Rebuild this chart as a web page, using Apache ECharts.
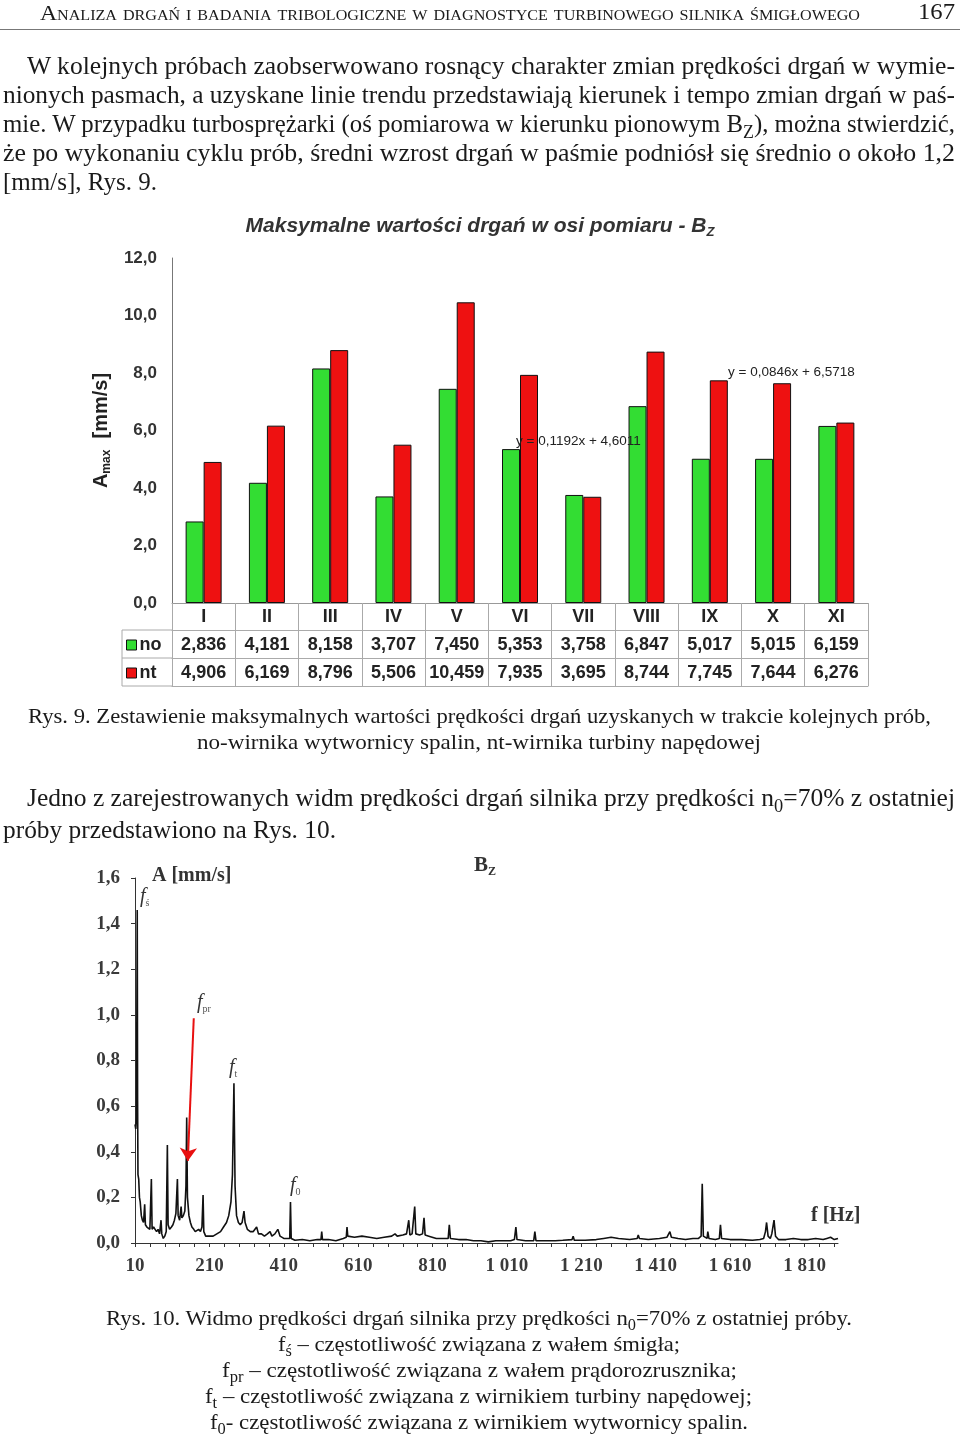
<!DOCTYPE html>
<html><head><meta charset="utf-8">
<script src="https://cdn.jsdelivr.net/npm/echarts@6/dist/echarts.min.js"></script>
<style>
html,body{margin:0;padding:0;background:#fff;}
body{width:960px;height:1435px;position:relative;overflow:hidden;}
#chart{position:absolute;left:0;top:0;width:960px;height:1435px;}
.ln{position:absolute;white-space:nowrap;font-family:'Liberation Serif','Times New Roman',serif;color:#1a1a1a;line-height:30px;height:30px;transform-origin:0 50%;}
.sub{font-size:0.72em;position:relative;top:0.32em;}
.hr{position:absolute;left:0;top:29px;width:960px;height:1px;background:#777;}
</style></head>
<body>
<div id="chart"></div>
<div class="hr"></div>
<div id="text"></div>
<script>
// ---------- DATA ----------
const categories = ['I','II','III','IV','V','VI','VII','VIII','IX','X','XI'];
const noValues = [2.836,4.181,8.158,3.707,7.450,5.353,3.758,6.847,5.017,5.015,6.159];
const ntValues = [4.906,6.169,8.796,5.506,10.459,7.935,3.695,8.744,7.745,7.644,6.276];
const trendNoLabel = 'y = 0,1192x + 4,6011';
const trendNtLabel = 'y = 0,0846x + 6,5718';
const specTickLabels = ['10','210','410','610','810','1 010','1 210','1 410','1 610','1 810'];
// spectrum, [frequency Hz, amplitude mm/s]
const specLow = [
 [10,0.52],[12,0.50],[14,0.55],[16,1.46],[17,0.62],[18,0.30],[20,0.28],[22,0.20],[24,0.18],[27,0.12],
 [30,0.10],[33,0.09],[36,0.17],[38,0.08],[42,0.07],[46,0.07],[50,0.06],[54,0.28],[56,0.06],[60,0.07],
 [64,0.06],[68,0.05],[72,0.06],[76,0.04],[80,0.10],[82,0.04],[86,0.02],[90,0.03],[94,0.05],[97,0.43],
 [99,0.08],[103,0.06],[108,0.07],[112,0.08],[116,0.10],[120,0.13],[124,0.28],[126,0.12],[130,0.10],[134,0.16],
 [136,0.11],[140,0.12],[144,0.14],[147,0.25],[149,0.55],[151,0.20],[155,0.12],[159,0.09],[163,0.07],[168,0.06],
 [172,0.05],[177,0.05],[181,0.06],[186,0.05],[190,0.07],[193,0.21],[195,0.05],[200,0.03],[210,0.03],[220,0.03],
 [230,0.04],[240,0.05],[248,0.07],[256,0.09],[262,0.12],[268,0.18],[272,0.30],[276,0.70],[279,0.25],[283,0.12],
 [288,0.09],[293,0.08],[298,0.09],[303,0.14],[306,0.09],[312,0.06],[320,0.05],[328,0.05],[337,0.07],[342,0.04],
 [350,0.04],[358,0.03],[366,0.04],[373,0.05],[378,0.03],[386,0.04],[394,0.06],[400,0.03],[410,0.02],[420,0.02],
 [426,0.02],[428,0.18],[430,0.02],[440,0.012]
];
const specHigh = [
 [460,0.015],[480,0.01],[500,0.015],[510,0.015],[512,0.05],[514,0.015],[530,0.015],[550,0.01],[570,0.02],[578,0.025],
 [580,0.07],[582,0.03],[600,0.025],[620,0.03],[640,0.025],[660,0.02],[680,0.025],[700,0.03],[709,0.04],[715,0.03],
 [730,0.035],[740,0.04],[746,0.10],[749,0.035],[755,0.04],[762,0.16],[765,0.04],[775,0.035],[783,0.04],[787,0.11],
 [790,0.035],[800,0.03],[820,0.02],[840,0.02],[852,0.02],[855,0.08],[858,0.02],[880,0.015],[900,0.015],[920,0.01],
 [940,0.01],[960,0.005],[980,0.01],[1000,0.01],[1020,0.01],[1030,0.015],[1034,0.07],[1037,0.015],[1060,0.01],[1082,0.01],
 [1085,0.05],[1088,0.01],[1110,0.01],[1140,0.01],[1160,0.012],[1185,0.015],[1188,0.03],[1191,0.012],[1220,0.012],[1250,0.015],
 [1270,0.02],[1290,0.025],[1310,0.02],[1340,0.015],[1360,0.02],[1363,0.035],[1366,0.02],[1390,0.015],[1420,0.02],[1440,0.025],
 [1448,0.05],[1452,0.025],[1470,0.02],[1490,0.015],[1510,0.02],[1525,0.02],[1532,0.03],[1535,0.26],[1538,0.03],[1548,0.02],
 [1550,0.05],[1553,0.02],[1570,0.015],[1581,0.02],[1584,0.08],[1587,0.02],[1610,0.015],[1640,0.015],[1670,0.012],[1690,0.015],
 [1700,0.02],[1705,0.05],[1708,0.09],[1712,0.03],[1718,0.02],[1722,0.04],[1728,0.10],[1732,0.03],[1740,0.015],[1760,0.015],
 [1780,0.02],[1800,0.015],[1820,0.015],[1840,0.02],[1860,0.015],[1870,0.02],[1880,0.025],[1890,0.015],[1900,0.02]
];
const arrowFrom = [168, 0.985];
const arrowTo = [152, 0.36];

// ---------- TEXT ----------
const textLines = [
 {h:'Analiza drgań i badania tribologiczne w diagnostyce turbinowego silnika śmigłowego', x:40, w:820, y:13, s:22, sc:true},
 {h:'167', x:918, w:37, y:12, s:23},
 {h:'W kolejnych próbach zaobserwowano rosnący charakter zmian prędkości drgań w wymie-', x:27, w:928, y:66, s:25},
 {h:'nionych pasmach, a uzyskane linie trendu przedstawiają kierunek i tempo zmian drgań w paś-', x:3, w:952, y:95, s:25},
 {h:'mie. W przypadku turbosprężarki (oś pomiarowa w kierunku pionowym B<span class="sub">Z</span>), można stwierdzić,', x:3, w:952, y:124, s:25},
 {h:'że po wykonaniu cyklu prób, średni wzrost drgań w paśmie podniósł się średnio o około 1,2', x:3, w:952, y:153, s:25},
 {h:'[mm/s], Rys. 9.', x:3, w:154, y:182, s:25},
 {h:'Rys. 9. Zestawienie maksymalnych wartości prędkości drgań uzyskanych w trakcie kolejnych prób,', x:28, w:903, y:716, s:22},
 {h:'no-wirnika wytwornicy spalin, nt-wirnika turbiny napędowej', x:197, w:564, y:742, s:22},
 {h:'Jedno z zarejestrowanych widm prędkości drgań silnika przy prędkości n<span class="sub">0</span>=70% z ostatniej', x:27, w:928, y:798, s:25},
 {h:'próby przedstawiono na Rys. 10.', x:3, w:333, y:830, s:25},
 {h:'Rys. 10. Widmo prędkości drgań silnika przy prędkości n<span class="sub">0</span>=70% z ostatniej próby.', x:106, w:746, y:1318, s:22},
 {h:'f<span class="sub">ś</span> – częstotliwość związana z wałem śmigła;', x:278, w:402, y:1344, s:22},
 {h:'f<span class="sub">pr</span> – częstotliwość związana z wałem prądorozrusznika;', x:222, w:515, y:1370, s:22},
 {h:'f<span class="sub">t</span> – częstotliwość związana z wirnikiem turbiny napędowej;', x:205, w:547, y:1396, s:22},
 {h:'f<span class="sub">0</span>- częstotliwość związana z wirnikiem wytwornicy spalin.', x:210, w:538, y:1422, s:22}
];
const T = document.getElementById('text');
textLines.forEach(l => {
  const d = document.createElement('div');
  d.className = 'ln';
  d.innerHTML = l.h;
  d.style.fontSize = l.s + 'px';
  d.style.left = l.x + 'px';
  d.style.top = (l.y - 15) + 'px';
  if (l.sc) d.style.fontVariant = 'small-caps';
  T.appendChild(d);
  const w = d.getBoundingClientRect().width;
  d.style.transform = 'scaleX(' + (l.w / w) + ')';
});

// ---------- CHART ----------
const SANS = "'Liberation Sans', Arial, sans-serif";
const SERIF = "'Liberation Serif', 'Times New Roman', serif";
const fmt3 = v => v.toFixed(3).replace('.', ',');
const fmt1 = v => v.toFixed(1).replace('.', ',');
const cellStyle = {fontFamily:SANS,fontSize:18,fontWeight:'bold',color:'#222',lineHeight:28};
const tableLine = {color:'#aaa',width:1};
const annRich = {
  f:{fontFamily:SERIF,fontSize:20,fontStyle:'italic',fill:'#333',lineHeight:22},
  s:{fontFamily:SERIF,fontSize:10,fill:'#555',lineHeight:10,verticalAlign:'bottom'}
};

const chart = echarts.init(document.getElementById('chart'), null, {renderer:'canvas'});
const option = {
  animation:false,
  backgroundColor:'#fff',
  title:{
    text:'{t|Maksymalne wartości drgań w osi pomiaru - B}{z|Z}',
    left:'center', top:208,
    textStyle:{rich:{
      t:{fontFamily:SANS,fontSize:21,fontWeight:'bold',fontStyle:'italic',color:'#333',lineHeight:26},
      z:{fontFamily:SANS,fontSize:13,fontWeight:'bold',fontStyle:'italic',color:'#333',lineHeight:13,verticalAlign:'bottom'}
    }}
  },
  legend:{
    data:['no','nt'], orient:'vertical', left:126, top:636, padding:0,
    itemWidth:10, itemHeight:10, itemGap:10, icon:'rect',
    itemStyle:{borderColor:'#111',borderWidth:1},
    textStyle:{fontFamily:SANS,fontSize:18,fontWeight:'bold',color:'#222',lineHeight:18,padding:[0,0,0,-2]}
  },
  grid:[
    {left:172, top:258, width:696, height:345},
    {left:135, top:878, width:703, height:365}
  ],
  xAxis:[
    {type:'category', gridIndex:0, data:categories,
     axisLine:{lineStyle:{color:'#999',width:1}},
     axisTick:{show:true, length:83, lineStyle:tableLine},
     axisLabel:{margin:0, interval:0,
       formatter:(v,i)=>'{c|'+v+'}\n{v|'+fmt3(noValues[i])+'}\n{v|'+fmt3(ntValues[i])+'}',
       rich:{c:cellStyle, v:cellStyle}}},
    {type:'category', gridIndex:0, data:categories, position:'bottom', offset:27,
     axisLine:{lineStyle:tableLine}, axisTick:{show:false}, axisLabel:{show:false}},
    {type:'category', gridIndex:0, data:categories, position:'bottom', offset:55,
     axisLine:{lineStyle:tableLine}, axisTick:{show:false}, axisLabel:{show:false}},
    {type:'category', gridIndex:0, data:categories, position:'bottom', offset:83,
     axisLine:{lineStyle:tableLine}, axisTick:{show:false}, axisLabel:{show:false}},
    {type:'value', gridIndex:1, min:10, max:1900, show:false},
    {type:'value', gridIndex:1, min:0, max:1890, interval:40, position:'bottom',
     axisLine:{onZero:false, lineStyle:{color:'#333',width:1}},
     axisTick:{show:true, length:4, lineStyle:{color:'#333'}},
     splitLine:{show:false},
     axisLabel:{margin:14, showMaxLabel:false,
       formatter:v => (v % 200 === 0 && specTickLabels[v/200] !== undefined) ? specTickLabels[v/200] : '',
       fontFamily:SERIF, fontSize:19, fontWeight:'bold', color:'#3a3a3a'}}
  ],
  yAxis:[
    {type:'value', gridIndex:0, min:0, max:12, interval:2,
     name:'{a|A}{m|max}{a|  [mm/s]}', nameLocation:'middle', nameGap:50, nameRotate:90,
     nameTextStyle:{rich:{
       a:{fontFamily:SANS,fontSize:20,fontWeight:'bold',color:'#222',lineHeight:24},
       m:{fontFamily:SANS,fontSize:12,fontWeight:'bold',color:'#222',lineHeight:12,verticalAlign:'bottom'}
     }},
     axisLine:{show:true, lineStyle:{color:'#777',width:1}},
     axisTick:{show:false}, splitLine:{show:false},
     axisLabel:{margin:15, formatter:fmt1, fontFamily:SANS, fontSize:17, fontWeight:'bold', color:'#333'}},
    {type:'value', gridIndex:1, min:0, max:1.6, interval:0.2,
     axisLine:{show:true, lineStyle:{color:'#333',width:1}},
     axisTick:{show:true, length:4, lineStyle:{color:'#333'}},
     splitLine:{show:false},
     axisLabel:{margin:15, formatter:fmt1, fontFamily:SERIF, fontSize:19, fontWeight:'bold', color:'#3a3a3a'}}
  ],
  series:[
    {name:'no', type:'bar', xAxisIndex:0, yAxisIndex:0, data:noValues, barWidth:18, barGap:'0%',
     itemStyle:{color:'#33dd33', borderColor:'#111', borderWidth:1}},
    {name:'nt', type:'bar', xAxisIndex:0, yAxisIndex:0, data:ntValues, barWidth:18, barGap:'0%',
     itemStyle:{color:'#ee1111', borderColor:'#111', borderWidth:1}},
    {name:'spectrum', type:'line', xAxisIndex:4, yAxisIndex:1, data:specLow.concat(specHigh),
     showSymbol:false, symbol:'none', lineStyle:{color:'#111', width:1.6},
     markLine:{silent:true, animation:false, symbol:['none','arrow'], symbolSize:13,
       lineStyle:{color:'#e81010', width:2, type:'solid'}, label:{show:false},
       data:[[{coord:arrowFrom},{coord:arrowTo}]]}}
  ],
  graphic:[
    {type:'line', shape:{x1:122,y1:630,x2:172,y2:630}, style:{stroke:'#aaa',lineWidth:1}},
    {type:'line', shape:{x1:122,y1:658,x2:172,y2:658}, style:{stroke:'#aaa',lineWidth:1}},
    {type:'line', shape:{x1:122,y1:686,x2:172,y2:686}, style:{stroke:'#aaa',lineWidth:1}},
    {type:'line', shape:{x1:122,y1:630,x2:122,y2:686}, style:{stroke:'#aaa',lineWidth:1}},
    {type:'text', z:100, style:{x:728,y:372,text:trendNtLabel,font:"13.5px 'Liberation Sans'",fill:'#222',verticalAlign:'middle'}},
    {type:'text', z:100, style:{x:516,y:441,text:trendNoLabel,font:"13.5px 'Liberation Sans'",fill:'#222',verticalAlign:'middle'}},
    {type:'text', z:100, style:{x:152,y:876,text:'A [mm/s]',font:"bold 20px 'Liberation Serif'",fill:'#333',verticalAlign:'middle'}},
    {type:'text', z:100, style:{x:474,y:866,text:'{b|B}{z|Z}',verticalAlign:'middle',
      rich:{b:{fontFamily:SERIF,fontSize:21,fontWeight:'bold',fill:'#333',lineHeight:24},
            z:{fontFamily:SERIF,fontSize:12,fontWeight:'bold',fill:'#333',lineHeight:12,verticalAlign:'bottom'}}}},
    {type:'text', z:100, style:{x:811,y:1216,text:'f [Hz]',font:"bold 20px 'Liberation Serif'",fill:'#333',verticalAlign:'middle'}},
    {type:'text', z:100, style:{x:140,y:897,text:'{f|f}{s|ś}',verticalAlign:'middle',rich:annRich}},
    {type:'text', z:100, style:{x:197,y:1003,text:'{f|f}{s|pr}',verticalAlign:'middle',rich:annRich}},
    {type:'text', z:100, style:{x:229,y:1068,text:'{f|f}{s|t}',verticalAlign:'middle',rich:annRich}},
    {type:'text', z:100, style:{x:290,y:1186,text:'{f|f}{s|0}',verticalAlign:'middle',rich:annRich}}
  ]
};
chart.setOption(option);
</script>
</body></html>
